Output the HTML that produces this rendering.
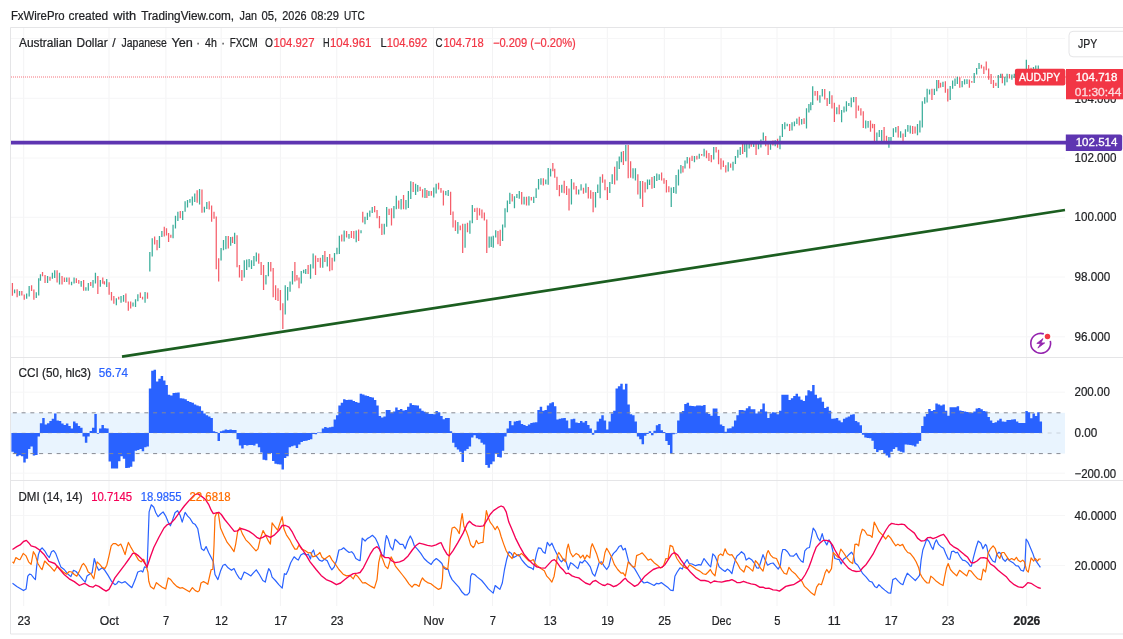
<!DOCTYPE html>
<html lang="en"><head><meta charset="utf-8"><title>AUDJPY chart</title>
<style>html,body{margin:0;padding:0;background:#fff}body{width:1123px;height:639px;overflow:hidden}svg{display:block;will-change:transform;filter:blur(0.4px)}text{font-family:"Liberation Sans", "DejaVu Sans", sans-serif}</style>
</head><body>
<svg width="1123" height="639" viewBox="0 0 1123 639">
<rect x="0" y="0" width="1123" height="639" fill="#ffffff"/>
<g stroke="#f3f3f4" stroke-width="1">
<line x1="23.7" y1="28" x2="23.7" y2="606"/>
<line x1="109.0" y1="28" x2="109.0" y2="606"/>
<line x1="165.9" y1="28" x2="165.9" y2="606"/>
<line x1="221.2" y1="28" x2="221.2" y2="606"/>
<line x1="280.4" y1="28" x2="280.4" y2="606"/>
<line x1="336.8" y1="28" x2="336.8" y2="606"/>
<line x1="433.5" y1="28" x2="433.5" y2="606"/>
<line x1="492.5" y1="28" x2="492.5" y2="606"/>
<line x1="550.0" y1="28" x2="550.0" y2="606"/>
<line x1="607.3" y1="28" x2="607.3" y2="606"/>
<line x1="664.3" y1="28" x2="664.3" y2="606"/>
<line x1="721.1" y1="28" x2="721.1" y2="606"/>
<line x1="777.0" y1="28" x2="777.0" y2="606"/>
<line x1="834.0" y1="28" x2="834.0" y2="606"/>
<line x1="891.0" y1="28" x2="891.0" y2="606"/>
<line x1="947.8" y1="28" x2="947.8" y2="606"/>
<line x1="1026.6" y1="28" x2="1026.6" y2="606"/>
<line x1="11" y1="38.5" x2="1065" y2="38.5" stroke="#f6f6f7"/>
<line x1="11" y1="98.3" x2="1065" y2="98.3" stroke="#f6f6f7"/>
<line x1="11" y1="158.0" x2="1065" y2="158.0" stroke="#f6f6f7"/>
<line x1="11" y1="217.3" x2="1065" y2="217.3" stroke="#f6f6f7"/>
<line x1="11" y1="277.0" x2="1065" y2="277.0" stroke="#f6f6f7"/>
<line x1="11" y1="336.8" x2="1065" y2="336.8" stroke="#f6f6f7"/>
<line x1="11" y1="392.2" x2="1065" y2="392.2" stroke="#f6f6f7"/>
<line x1="11" y1="433.0" x2="1065" y2="433.0" stroke="#f6f6f7"/>
<line x1="11" y1="473.2" x2="1065" y2="473.2" stroke="#f6f6f7"/>
<line x1="11" y1="515.6" x2="1065" y2="515.6" stroke="#f6f6f7"/>
<line x1="11" y1="565.5" x2="1065" y2="565.5" stroke="#f6f6f7"/>
</g>
<g stroke="#e5e5e7" stroke-width="1" fill="none">
<path d="M1123 27.5H10.5V634H1123"/>
<line x1="10.5" y1="357.5" x2="1123" y2="357.5"/>
<line x1="10.5" y1="480.5" x2="1123" y2="480.5"/>
</g>
<line x1="11" y1="77" x2="1066" y2="77" stroke="#f23645" stroke-width="1" stroke-dasharray="1 1" opacity="0.7"/>
<line x1="122" y1="356.6" x2="1065" y2="210" stroke="#1b5e20" stroke-width="2.7" stroke-linecap="butt"/>
<path d="M14.60 289.4V293.3M19.53 291.1V295.8M26.65 293.6V298.7M29.17 286.1V296.5M36.29 292.2V298.0M38.70 278.3V295.5M40.45 274.3V280.7M47.57 276.1V282.9M52.39 272.8V278.7M54.69 270.3V277.9M59.51 272.8V284.5M66.74 277.4V282.0M71.56 281.8V285.3M74.07 277.4V283.4M81.19 280.9V286.7M85.90 287.2V290.7M88.31 283.1V290.7M93.02 280.1V287.8M95.43 272.8V283.4M100.36 280.1V286.7M106.71 279.0V287.0M116.35 298.3V305.3M121.04 296.1V302.7M123.54 295.1V301.8M133.01 302.4V306.6M135.52 299.2V306.9M137.86 294.3V301.2M145.06 292.0V302.7M149.82 251.9V271.6M152.23 238.2V256.6M159.46 235.9V248.0M161.87 230.9V237.1M173.06 224.8V238.2M175.46 215.8V228.5M177.87 211.8V221.0M182.69 211.0V219.9M185.10 201.2V211.8M187.51 200.1V207.5M189.92 198.9V202.7M192.33 196.4V205.5M194.74 193.4V202.0M199.56 189.1V204.4M204.38 206.7V212.4M206.79 201.9V208.9M221.08 248.0V260.6M223.49 239.9V250.2M225.90 235.9V249.2M230.68 237.0V245.7M234.64 232.7V243.9M244.28 260.3V277.5M246.69 259.4V270.1M249.10 259.1V267.2M251.51 260.3V268.9M253.92 256.0V266.0M256.33 252.5V261.5M265.96 274.9V284.4M268.37 262.0V276.3M285.24 285.2V314.5M287.65 287.0V300.4M290.06 281.5V291.8M292.47 271.1V284.4M301.25 271.1V283.5M303.66 269.8V273.2M305.72 268.9V274.1M310.54 264.2V278.7M313.12 253.4V268.4M322.76 255.1V267.7M327.29 256.9V266.4M334.52 253.0V261.6M336.93 247.8V254.3M339.34 235.7V254.0M344.16 230.6V241.4M348.98 234.0V238.8M356.21 230.6V242.3M361.03 230.2V233.3M364.99 216.8V224.2M367.40 212.7V219.9M369.81 210.4V216.8M372.22 207.0V213.0M384.27 223.7V234.5M386.67 207.0V226.8M393.90 206.1V218.2M396.31 195.8V209.2M401.13 198.9V209.6M405.95 200.1V209.6M408.36 191.0V207.9M410.77 181.2V198.9M415.59 183.8V195.0M417.75 185.0V191.8M424.97 187.9V197.9M428.93 191.0V196.1M433.75 187.5V197.5M436.16 183.8V193.6M445.80 191.0V195.3M448.21 190.1V196.1M457.85 222.0V233.7M465.08 223.7V247.8M469.90 220.6V233.7M472.31 205.1V223.3M489.17 236.6V247.8M491.24 236.6V246.9M493.30 235.7V247.8M495.71 230.2V237.5M502.60 224.5V240.9M505.01 208.2V227.5M507.40 200.6V212.3M509.81 192.8V204.0M514.46 196.3V208.3M516.87 194.0V198.0M519.28 191.1V198.8M524.10 196.8V204.4M528.92 196.3V205.4M533.73 196.8V203.1M536.14 188.2V198.0M538.55 179.1V189.4M540.96 178.2V184.7M545.78 179.6V184.2M548.19 167.9V184.7M550.60 168.7V176.5M561.79 184.7V192.8M571.43 179.1V204.4M578.66 189.4V194.5M581.07 184.2V190.6M585.89 183.4V192.8M595.52 192.0V207.5M597.75 184.5V193.1M600.15 176.8V198.3M609.79 182.0V193.1M612.20 174.2V184.0M617.02 161.3V180.6M619.26 156.5V169.1M621.33 151.8V162.2M625.80 145.0V161.3M633.03 168.2V178.5M635.44 168.2V180.6M640.26 181.1V198.8M647.49 179.4V189.2M649.55 179.4V185.1M654.37 175.9V188.0M656.78 173.4V181.1M659.19 174.2V179.9M671.24 187.5V206.9M673.65 187.1V193.1M676.06 175.1V193.7M678.47 169.6V185.4M680.88 165.1V173.4M685.01 160.4V168.5M687.23 157.1V163.5M694.46 156.1V162.3M699.28 153.7V158.8M704.10 148.8V156.6M713.73 147.1V159.5M728.19 162.3V171.6M733.01 161.8V170.4M735.42 156.1V164.0M737.83 149.7V157.8M740.24 147.1V154.9M744.72 143.7V151.9M746.78 142.8V157.5M749.19 142.0V148.5M753.67 141.6V147.1M758.49 141.1V149.2M760.90 139.4V147.5M763.30 132.5V140.6M770.53 141.1V149.7M775.18 140.2V146.3M779.98 135.7V149.2M782.39 124.0V137.1M784.80 122.3V129.2M787.21 123.7V126.3M792.03 122.3V130.6M794.44 121.6V126.3M796.85 118.5V124.0M801.67 118.9V124.5M806.49 108.2V128.5M808.90 103.9V112.5M810.79 102.2V110.3M812.69 86.2V105.1M819.91 95.3V102.7M822.32 88.9V96.5M829.55 91.3V103.9M836.78 107.3V114.2M841.60 109.9V122.3M844.01 106.5V112.5M846.42 101.3V111.6M848.83 103.0V106.1M851.24 97.5V107.3M853.65 97.0V102.2M865.70 120.6V128.5M868.09 120.9V127.8M876.87 132.6V141.2M879.28 130.0V136.9M881.69 130.0V141.2M888.92 136.9V147.8M890.98 136.9V141.2M893.39 128.3V136.9M895.80 127.1V132.6M900.62 131.2V137.8M905.44 129.2V136.9M907.85 124.9V131.8M910.26 125.4V133.5M917.49 124.0V135.2M919.90 120.6V132.6M922.31 101.3V127.5M924.72 97.3V103.7M927.13 88.7V102.5M929.54 89.6V94.4M934.35 88.7V95.1M936.76 80.1V91.3M942.96 81.8V87.0M950.19 86.1V99.9M952.60 80.6V88.7M955.01 78.4V86.1M957.34 76.8V83.9M962.16 81.1V87.2M964.57 79.2V84.6M966.98 79.2V83.9M974.21 72.9V83.1M976.62 68.0V74.6M979.03 63.1V69.1M998.30 75.1V87.9M1000.71 73.7V77.9M1004.76 76.8V85.5M1007.06 73.7V82.2M1011.88 74.4V79.8M1014.29 73.7V77.9M1019.11 74.6V78.4M1021.52 73.7V77.9M1023.93 72.9V77.9M1026.34 59.8V76.8M1033.46 66.9V76.8M1035.76 65.4V76.2M1038.28 65.4V77.0" stroke="#089981" stroke-width="1.25" fill="none" opacity="0.8"/>
<path d="M12.41 282.9V295.8M17.12 289.2V297.3M21.83 291.1V295.5M24.24 294.4V299.8M31.58 285.3V291.1M33.88 289.4V299.8M42.53 271.9V276.3M45.05 275.0V282.9M49.98 276.8V280.7M57.10 270.3V282.6M62.03 276.1V284.5M64.44 277.4V282.0M69.15 277.4V284.5M76.37 278.3V282.9M78.78 280.1V283.7M83.60 280.1V290.7M90.72 282.0V285.9M97.84 276.1V294.0M102.77 277.4V283.7M104.41 281.2V284.5M109.12 282.3V294.7M111.49 292.0V300.6M113.84 296.1V303.7M118.69 296.7V299.4M125.89 293.6V302.7M128.32 301.4V310.8M130.67 301.4V308.4M140.37 292.5V297.9M142.56 296.7V299.6M147.49 292.5V298.8M154.64 236.5V244.5M157.05 239.9V250.2M164.28 226.8V236.5M166.51 228.2V235.4M168.58 233.0V242.0M170.82 234.7V237.7M180.28 211.0V218.2M197.15 190.3V202.7M201.97 189.5V212.7M209.20 201.2V209.6M211.61 205.5V221.7M214.02 211.8V218.7M216.26 216.5V269.2M218.67 258.3V281.5M228.30 235.9V248.5M232.57 236.7V243.1M237.05 235.3V267.2M239.46 264.9V277.5M241.87 270.1V280.9M258.73 253.4V263.7M261.14 262.0V274.9M263.55 264.9V290.1M270.78 262.0V271.5M273.19 268.0V297.3M275.60 285.2V299.9M278.01 288.3V301.1M280.42 290.1V310.2M282.83 303.3V329.1M294.88 262.0V281.5M296.94 274.9V280.4M299.01 277.5V288.3M308.13 264.9V274.1M315.53 255.6V274.9M317.94 258.0V262.0M320.35 257.7V267.7M324.88 250.9V262.1M329.70 254.0V271.2M332.11 257.8V270.2M341.75 234.5V241.4M346.57 231.1V237.5M351.39 231.1V238.0M353.80 231.1V238.8M358.62 229.4V240.9M362.75 211.7V222.5M374.63 206.1V212.2M377.04 209.9V218.2M379.45 216.1V228.2M381.86 223.7V235.1M389.08 208.7V215.1M391.49 208.2V225.4M398.72 200.6V208.7M403.54 195.0V209.2M413.18 182.0V192.0M420.15 186.7V191.0M422.56 189.3V197.5M426.87 190.1V197.9M431.34 191.0V195.8M438.57 182.7V189.6M440.98 187.9V192.7M443.39 190.6V205.6M450.62 191.8V215.1M453.03 211.6V227.5M455.44 220.2V230.9M460.26 225.4V230.2M462.67 223.7V252.9M467.49 222.8V232.3M474.72 208.2V212.0M477.13 207.8V219.9M479.54 208.2V215.4M481.94 209.6V218.2M484.35 212.5V220.6M486.76 219.4V252.9M497.95 230.9V244.3M500.19 229.7V246.1M512.22 194.0V201.4M521.69 192.0V204.4M526.51 196.8V205.4M531.33 197.1V200.6M543.37 178.2V185.4M552.84 163.0V171.3M554.73 168.7V177.8M556.97 176.8V189.9M559.38 185.1V196.3M564.20 180.8V193.3M566.61 185.9V195.1M569.02 188.5V210.6M573.84 182.5V189.4M576.25 185.9V194.5M583.48 187.7V193.7M588.30 187.1V198.5M590.71 190.2V198.8M593.12 192.0V212.3M602.56 174.2V182.8M604.97 179.4V190.2M607.38 187.1V200.0M614.61 166.8V184.5M623.39 151.0V165.1M628.21 145.0V178.2M630.62 161.3V177.7M637.85 174.2V194.4M642.67 181.1V206.9M645.08 182.3V192.6M651.96 177.1V188.8M661.60 172.5V180.6M664.01 178.2V183.7M666.42 179.9V192.6M668.83 186.3V192.3M682.94 166.1V172.5M689.64 157.5V168.6M692.05 155.7V160.9M696.87 155.7V159.5M701.69 154.0V155.7M706.51 150.6V158.3M708.92 153.1V160.9M711.33 154.9V162.3M716.14 147.1V152.6M718.55 149.7V164.3M720.96 158.3V169.5M723.37 160.6V166.9M725.78 165.2V172.6M730.60 163.5V167.8M742.65 142.8V154.0M751.26 142.3V146.8M756.08 142.3V154.9M765.71 135.9V146.3M768.12 142.0V154.9M772.94 140.6V145.4M777.57 138.8V147.8M789.62 124.0V130.9M799.26 116.8V125.4M804.08 118.2V124.0M815.09 91.0V95.8M817.50 91.0V100.4M824.73 88.9V99.6M827.14 97.9V106.1M831.96 95.3V108.5M834.37 102.7V122.0M839.19 104.8V114.2M856.06 97.0V118.2M858.47 105.6V110.8M860.88 108.2V115.4M863.29 111.3V128.0M870.50 120.6V131.8M872.56 123.7V128.3M874.46 124.0V141.2M884.10 127.1V141.2M886.51 135.7V141.2M898.21 126.1V137.4M903.03 133.5V141.2M912.67 126.1V134.0M915.08 126.6V133.5M931.94 88.7V99.9M938.66 80.1V88.2M940.55 82.7V87.5M945.37 81.3V92.7M947.78 88.7V101.6M959.75 77.3V87.7M969.39 79.5V87.7M971.80 81.1V82.8M981.43 64.7V68.5M983.84 66.4V74.0M986.25 61.4V70.2M988.66 68.5V79.8M991.07 74.0V83.9M993.48 80.0V87.9M995.89 82.8V86.1M1002.35 73.7V83.3M1009.47 74.0V78.4M1016.70 74.0V79.0M1028.64 64.9V76.2M1031.05 67.8V77.9" stroke="#f23645" stroke-width="1.25" fill="none" opacity="0.8"/>
<line x1="11" y1="142.6" x2="1066" y2="142.6" stroke="#5e35b1" stroke-width="3.8"/>
<rect x="11" y="412.8" width="1054.0" height="40.8" fill="#e9f4fe"/>
<path d="M11.42 433.0h2.47v18.7h-2.47zM13.79 433.0h2.47v21.1h-2.47zM16.16 433.0h2.47v23.2h-2.47zM18.53 433.0h2.47v22.3h-2.47zM20.90 433.0h2.47v23.2h-2.47zM23.26 433.0h2.47v29.4h-2.47zM25.63 433.0h2.47v25.8h-2.47zM28.00 433.0h2.47v16.0h-2.47zM30.37 433.0h2.47v13.4h-2.47zM32.74 433.0h2.47v22.6h-2.47zM35.11 433.0h2.47v21.9h-2.47zM37.48 433.0h2.47v3.6h-2.47zM39.85 423.2h2.47v9.8h-2.47zM42.22 417.9h2.47v15.1h-2.47zM44.59 424.6h2.47v8.4h-2.47zM46.95 423.2h2.47v9.8h-2.47zM49.32 420.9h2.47v12.1h-2.47zM51.69 418.8h2.47v14.2h-2.47zM54.06 413.4h2.47v19.6h-2.47zM56.43 420.5h2.47v12.5h-2.47zM58.80 421.1h2.47v11.9h-2.47zM61.17 423.6h2.47v9.4h-2.47zM63.54 425.0h2.47v8.0h-2.47zM65.91 423.6h2.47v9.4h-2.47zM68.28 425.9h2.47v7.1h-2.47zM70.64 428.6h2.47v4.4h-2.47zM73.01 421.4h2.47v11.6h-2.47zM75.38 423.2h2.47v9.8h-2.47zM77.75 425.9h2.47v7.1h-2.47zM80.12 427.7h2.47v5.3h-2.47zM82.49 433.0h2.47v3.6h-2.47zM84.86 433.0h2.47v9.8h-2.47zM87.23 433.0h2.47v3.6h-2.47zM89.60 431.1h2.47v1.9h-2.47zM91.97 427.7h2.47v5.3h-2.47zM94.33 413.9h2.47v19.1h-2.47zM96.70 433.0h2.47v0.7h-2.47zM99.07 428.6h2.47v4.4h-2.47zM101.44 425.0h2.47v8.0h-2.47zM103.81 428.2h2.47v4.8h-2.47zM106.18 428.6h2.47v4.4h-2.47zM108.55 433.0h2.47v28.5h-2.47zM110.92 433.0h2.47v35.6h-2.47zM113.29 433.0h2.47v35.6h-2.47zM115.66 433.0h2.47v35.6h-2.47zM118.02 433.0h2.47v28.3h-2.47zM120.39 433.0h2.47v23.2h-2.47zM122.76 433.0h2.47v25.8h-2.47zM125.13 433.0h2.47v35.1h-2.47zM127.50 433.0h2.47v34.7h-2.47zM129.87 433.0h2.47v33.8h-2.47zM132.24 433.0h2.47v28.5h-2.47zM134.61 433.0h2.47v17.8h-2.47zM136.98 433.0h2.47v17.0h-2.47zM139.35 433.0h2.47v16.0h-2.47zM141.71 433.0h2.47v18.3h-2.47zM144.08 433.0h2.47v14.3h-2.47zM146.45 433.0h2.47v13.4h-2.47zM148.82 388.5h2.47v44.5h-2.47zM151.19 370.7h2.47v62.3h-2.47zM153.56 369.8h2.47v63.2h-2.47zM155.93 381.4h2.47v51.6h-2.47zM158.30 378.7h2.47v54.3h-2.47zM160.67 376.0h2.47v57.0h-2.47zM163.04 380.5h2.47v52.5h-2.47zM165.40 384.9h2.47v48.1h-2.47zM167.77 394.7h2.47v38.3h-2.47zM170.14 395.6h2.47v37.4h-2.47zM172.51 392.9h2.47v40.1h-2.47zM174.88 392.7h2.47v40.3h-2.47zM177.25 392.6h2.47v40.4h-2.47zM179.62 398.3h2.47v34.7h-2.47zM181.99 398.6h2.47v34.4h-2.47zM184.36 399.2h2.47v33.8h-2.47zM186.73 400.9h2.47v32.1h-2.47zM189.09 402.1h2.47v30.9h-2.47zM191.46 402.7h2.47v30.3h-2.47zM193.83 404.5h2.47v28.5h-2.47zM196.20 405.6h2.47v27.4h-2.47zM198.57 406.3h2.47v26.7h-2.47zM200.94 410.7h2.47v22.3h-2.47zM203.31 413.4h2.47v19.6h-2.47zM205.68 415.2h2.47v17.8h-2.47zM208.05 416.5h2.47v16.5h-2.47zM210.42 417.9h2.47v15.1h-2.47zM212.78 431.2h2.47v1.8h-2.47zM215.15 432.1h2.47v0.9h-2.47zM217.52 433.0h2.47v8.0h-2.47zM219.89 431.2h2.47v1.8h-2.47zM222.26 430.4h2.47v2.6h-2.47zM224.63 429.4h2.47v3.6h-2.47zM227.00 430.0h2.47v3.0h-2.47zM229.37 429.4h2.47v3.6h-2.47zM231.74 430.0h2.47v3.0h-2.47zM234.11 430.0h2.47v3.0h-2.47zM236.47 433.0h2.47v6.2h-2.47zM238.84 433.0h2.47v12.5h-2.47zM241.21 433.0h2.47v15.5h-2.47zM243.58 433.0h2.47v11.9h-2.47zM245.95 433.0h2.47v12.5h-2.47zM248.32 433.0h2.47v12.1h-2.47zM250.69 433.0h2.47v11.9h-2.47zM253.06 433.0h2.47v12.5h-2.47zM255.43 433.0h2.47v10.7h-2.47zM257.80 433.0h2.47v14.3h-2.47zM260.16 433.0h2.47v19.6h-2.47zM262.53 433.0h2.47v26.7h-2.47zM264.90 433.0h2.47v27.3h-2.47zM267.27 433.0h2.47v20.4h-2.47zM269.64 433.0h2.47v20.1h-2.47zM272.01 433.0h2.47v28.0h-2.47zM274.38 433.0h2.47v30.8h-2.47zM276.75 433.0h2.47v31.3h-2.47zM279.12 433.0h2.47v31.5h-2.47zM281.49 433.0h2.47v36.5h-2.47zM283.85 433.0h2.47v25.0h-2.47zM286.22 433.0h2.47v23.2h-2.47zM288.59 433.0h2.47v14.3h-2.47zM290.96 433.0h2.47v13.3h-2.47zM293.33 433.0h2.47v12.5h-2.47zM295.70 433.0h2.47v15.1h-2.47zM298.07 433.0h2.47v11.6h-2.47zM300.44 433.0h2.47v8.9h-2.47zM302.81 433.0h2.47v8.0h-2.47zM305.18 433.0h2.47v7.7h-2.47zM307.54 433.0h2.47v7.1h-2.47zM309.91 433.0h2.47v6.2h-2.47zM312.28 433.0h2.47v1.1h-2.47zM314.65 433.0h2.47v1.3h-2.47zM317.02 432.5h2.47v0.5h-2.47zM319.39 432.6h2.47v0.4h-2.47zM321.76 428.6h2.47v4.4h-2.47zM324.13 427.1h2.47v5.9h-2.47zM326.50 427.7h2.47v5.3h-2.47zM328.87 427.3h2.47v5.7h-2.47zM331.23 426.8h2.47v6.2h-2.47zM333.60 419.6h2.47v13.4h-2.47zM335.97 415.2h2.47v17.8h-2.47zM338.34 405.4h2.47v27.6h-2.47zM340.71 402.7h2.47v30.3h-2.47zM343.08 399.2h2.47v33.8h-2.47zM345.45 400.1h2.47v32.9h-2.47zM347.82 399.8h2.47v33.2h-2.47zM350.19 399.7h2.47v33.3h-2.47zM352.56 400.9h2.47v32.1h-2.47zM354.92 402.0h2.47v31.0h-2.47zM357.29 402.7h2.47v30.3h-2.47zM359.66 393.8h2.47v39.2h-2.47zM362.03 394.6h2.47v38.4h-2.47zM364.40 395.6h2.47v37.4h-2.47zM366.77 396.1h2.47v36.9h-2.47zM369.14 396.9h2.47v36.1h-2.47zM371.51 397.4h2.47v35.6h-2.47zM373.88 400.1h2.47v32.9h-2.47zM376.25 405.4h2.47v27.6h-2.47zM378.61 416.1h2.47v16.9h-2.47zM380.98 417.5h2.47v15.5h-2.47zM383.35 416.4h2.47v16.6h-2.47zM385.72 409.9h2.47v23.1h-2.47zM388.09 409.9h2.47v23.1h-2.47zM390.46 412.5h2.47v20.5h-2.47zM392.83 411.6h2.47v21.4h-2.47zM395.20 407.5h2.47v25.5h-2.47zM397.57 409.9h2.47v23.1h-2.47zM399.94 409.0h2.47v24.0h-2.47zM402.30 410.4h2.47v22.6h-2.47zM404.67 409.9h2.47v23.1h-2.47zM407.04 406.7h2.47v26.3h-2.47zM409.41 403.3h2.47v29.7h-2.47zM411.78 405.0h2.47v28.0h-2.47zM414.15 405.2h2.47v27.8h-2.47zM416.52 405.4h2.47v27.6h-2.47zM418.89 408.6h2.47v24.4h-2.47zM421.26 410.7h2.47v22.3h-2.47zM423.63 411.7h2.47v21.3h-2.47zM425.99 412.5h2.47v20.5h-2.47zM428.36 413.9h2.47v19.1h-2.47zM430.73 414.1h2.47v18.9h-2.47zM433.10 414.3h2.47v18.7h-2.47zM435.47 411.1h2.47v21.9h-2.47zM437.84 412.2h2.47v20.8h-2.47zM440.21 416.1h2.47v16.9h-2.47zM442.58 419.3h2.47v13.7h-2.47zM444.95 417.9h2.47v15.1h-2.47zM447.32 417.9h2.47v15.1h-2.47zM449.68 431.3h2.47v1.7h-2.47zM452.05 433.0h2.47v9.8h-2.47zM454.42 433.0h2.47v14.3h-2.47zM456.79 433.0h2.47v16.6h-2.47zM459.16 433.0h2.47v18.7h-2.47zM461.53 433.0h2.47v29.0h-2.47zM463.90 433.0h2.47v17.8h-2.47zM466.27 433.0h2.47v16.0h-2.47zM468.64 433.0h2.47v13.4h-2.47zM471.01 433.0h2.47v4.5h-2.47zM473.37 433.0h2.47v2.3h-2.47zM475.74 433.0h2.47v5.3h-2.47zM478.11 433.0h2.47v6.2h-2.47zM480.48 433.0h2.47v9.8h-2.47zM482.85 433.0h2.47v11.6h-2.47zM485.22 433.0h2.47v32.1h-2.47zM487.59 433.0h2.47v34.7h-2.47zM489.96 433.0h2.47v31.2h-2.47zM492.33 433.0h2.47v28.5h-2.47zM494.70 433.0h2.47v20.5h-2.47zM497.06 433.0h2.47v24.0h-2.47zM499.43 433.0h2.47v24.4h-2.47zM501.80 433.0h2.47v17.8h-2.47zM504.17 433.0h2.47v3.6h-2.47zM506.54 428.6h2.47v4.4h-2.47zM508.91 421.1h2.47v11.9h-2.47zM511.28 425.3h2.47v7.7h-2.47zM513.65 421.4h2.47v11.6h-2.47zM516.02 421.0h2.47v12.0h-2.47zM518.39 420.5h2.47v12.5h-2.47zM520.75 424.1h2.47v8.9h-2.47zM523.12 425.0h2.47v8.0h-2.47zM525.49 425.9h2.47v7.1h-2.47zM527.86 424.6h2.47v8.4h-2.47zM530.23 422.9h2.47v10.1h-2.47zM532.60 422.5h2.47v10.5h-2.47zM534.97 422.3h2.47v10.7h-2.47zM537.34 409.9h2.47v23.1h-2.47zM539.71 406.8h2.47v26.2h-2.47zM542.08 410.7h2.47v22.3h-2.47zM544.44 409.9h2.47v23.1h-2.47zM546.81 405.4h2.47v27.6h-2.47zM549.18 403.3h2.47v29.7h-2.47zM551.55 402.2h2.47v30.8h-2.47zM553.92 406.3h2.47v26.7h-2.47zM556.29 419.6h2.47v13.4h-2.47zM558.66 418.8h2.47v14.2h-2.47zM561.03 418.3h2.47v14.7h-2.47zM563.40 417.9h2.47v15.1h-2.47zM565.77 420.5h2.47v12.5h-2.47zM568.13 428.2h2.47v4.8h-2.47zM570.50 419.2h2.47v13.8h-2.47zM572.87 418.8h2.47v14.2h-2.47zM575.24 422.5h2.47v10.5h-2.47zM577.61 422.9h2.47v10.1h-2.47zM579.98 421.1h2.47v11.9h-2.47zM582.35 422.4h2.47v10.6h-2.47zM584.72 421.1h2.47v11.9h-2.47zM587.09 425.0h2.47v8.0h-2.47zM589.46 428.6h2.47v4.4h-2.47zM591.82 433.0h2.47v1.8h-2.47zM594.19 430.3h2.47v2.7h-2.47zM596.56 421.4h2.47v11.6h-2.47zM598.93 418.8h2.47v14.2h-2.47zM601.30 415.2h2.47v17.8h-2.47zM603.67 420.5h2.47v12.5h-2.47zM606.04 429.4h2.47v3.6h-2.47zM608.41 421.4h2.47v11.6h-2.47zM610.78 413.4h2.47v19.6h-2.47zM613.15 410.7h2.47v22.3h-2.47zM615.51 388.5h2.47v44.5h-2.47zM617.88 386.2h2.47v46.8h-2.47zM620.25 383.7h2.47v49.3h-2.47zM622.62 389.4h2.47v43.6h-2.47zM624.99 383.7h2.47v49.3h-2.47zM627.36 404.5h2.47v28.5h-2.47zM629.73 414.3h2.47v18.7h-2.47zM632.10 415.2h2.47v17.8h-2.47zM634.47 421.4h2.47v11.6h-2.47zM636.84 433.0h2.47v3.6h-2.47zM639.20 433.0h2.47v6.2h-2.47zM641.57 433.0h2.47v11.2h-2.47zM643.94 433.0h2.47v2.7h-2.47zM646.31 433.0h2.47v0.9h-2.47zM648.68 431.2h2.47v1.8h-2.47zM651.05 433.0h2.47v2.3h-2.47zM653.42 430.7h2.47v2.3h-2.47zM655.79 425.3h2.47v7.7h-2.47zM658.16 424.1h2.47v8.9h-2.47zM660.53 430.3h2.47v2.7h-2.47zM662.89 431.9h2.47v1.1h-2.47zM665.26 433.0h2.47v8.0h-2.47zM667.63 433.0h2.47v11.9h-2.47zM670.00 433.0h2.47v20.5h-2.47zM672.37 433.0h2.47v1.3h-2.47zM674.74 433.0h2.47v0.4h-2.47zM677.11 420.5h2.47v12.5h-2.47zM679.48 412.2h2.47v20.8h-2.47zM681.85 411.1h2.47v21.9h-2.47zM684.22 404.1h2.47v28.9h-2.47zM686.58 402.7h2.47v30.3h-2.47zM688.95 405.8h2.47v27.2h-2.47zM691.32 405.9h2.47v27.1h-2.47zM693.69 406.3h2.47v26.7h-2.47zM696.06 405.4h2.47v27.6h-2.47zM698.43 405.6h2.47v27.4h-2.47zM700.80 405.8h2.47v27.2h-2.47zM703.17 405.0h2.47v28.0h-2.47zM705.54 412.5h2.47v20.5h-2.47zM707.91 413.9h2.47v19.1h-2.47zM710.27 415.7h2.47v17.3h-2.47zM712.64 408.6h2.47v24.4h-2.47zM715.01 408.6h2.47v24.4h-2.47zM717.38 416.1h2.47v16.9h-2.47zM719.75 424.6h2.47v8.4h-2.47zM722.12 425.9h2.47v7.1h-2.47zM724.49 431.8h2.47v1.2h-2.47zM726.86 428.6h2.47v4.4h-2.47zM729.23 428.2h2.47v4.8h-2.47zM731.60 426.4h2.47v6.6h-2.47zM733.96 420.5h2.47v12.5h-2.47zM736.33 415.2h2.47v17.8h-2.47zM738.70 409.9h2.47v23.1h-2.47zM741.07 409.9h2.47v23.1h-2.47zM743.44 410.4h2.47v22.6h-2.47zM745.81 408.2h2.47v24.8h-2.47zM748.18 406.3h2.47v26.7h-2.47zM750.55 409.3h2.47v23.7h-2.47zM752.92 409.3h2.47v23.7h-2.47zM755.29 413.4h2.47v19.6h-2.47zM757.65 411.6h2.47v21.4h-2.47zM760.02 409.3h2.47v23.7h-2.47zM762.39 403.6h2.47v29.4h-2.47zM764.76 411.6h2.47v21.4h-2.47zM767.13 417.9h2.47v15.1h-2.47zM769.50 413.4h2.47v19.6h-2.47zM771.87 412.2h2.47v20.8h-2.47zM774.24 412.5h2.47v20.5h-2.47zM776.61 414.3h2.47v18.7h-2.47zM778.98 410.7h2.47v22.3h-2.47zM781.34 394.7h2.47v38.3h-2.47zM783.71 394.7h2.47v38.3h-2.47zM786.08 394.7h2.47v38.3h-2.47zM788.45 400.1h2.47v32.9h-2.47zM790.82 398.3h2.47v34.7h-2.47zM793.19 396.1h2.47v36.9h-2.47zM795.56 393.8h2.47v39.2h-2.47zM797.93 396.5h2.47v36.5h-2.47zM800.30 399.7h2.47v33.3h-2.47zM802.67 400.9h2.47v32.1h-2.47zM805.03 395.6h2.47v37.4h-2.47zM807.40 390.3h2.47v42.7h-2.47zM809.77 391.2h2.47v41.8h-2.47zM812.14 384.9h2.47v48.1h-2.47zM814.51 394.7h2.47v38.3h-2.47zM816.88 398.3h2.47v34.7h-2.47zM819.25 397.4h2.47v35.6h-2.47zM821.62 401.8h2.47v31.2h-2.47zM823.99 408.1h2.47v24.9h-2.47zM826.36 406.8h2.47v26.2h-2.47zM828.72 410.7h2.47v22.3h-2.47zM831.09 418.8h2.47v14.2h-2.47zM833.46 418.4h2.47v14.6h-2.47zM835.83 417.9h2.47v15.1h-2.47zM838.20 420.5h2.47v12.5h-2.47zM840.57 422.3h2.47v10.7h-2.47zM842.94 418.8h2.47v14.2h-2.47zM845.31 417.4h2.47v15.6h-2.47zM847.68 416.4h2.47v16.6h-2.47zM850.05 414.7h2.47v18.3h-2.47zM852.41 414.3h2.47v18.7h-2.47zM854.78 421.1h2.47v11.9h-2.47zM857.15 422.3h2.47v10.7h-2.47zM859.52 425.3h2.47v7.7h-2.47zM861.89 433.0h2.47v1.8h-2.47zM864.26 433.0h2.47v4.5h-2.47zM866.63 433.0h2.47v4.9h-2.47zM869.00 433.0h2.47v5.3h-2.47zM871.37 433.0h2.47v7.7h-2.47zM873.74 433.0h2.47v16.0h-2.47zM876.10 433.0h2.47v19.1h-2.47zM878.47 433.0h2.47v17.3h-2.47zM880.84 433.0h2.47v16.9h-2.47zM883.21 433.0h2.47v20.5h-2.47zM885.58 433.0h2.47v22.6h-2.47zM887.95 433.0h2.47v24.4h-2.47zM890.32 433.0h2.47v18.7h-2.47zM892.69 433.0h2.47v16.0h-2.47zM895.06 433.0h2.47v14.3h-2.47zM897.43 433.0h2.47v17.8h-2.47zM899.79 433.0h2.47v18.7h-2.47zM902.16 433.0h2.47v19.6h-2.47zM904.53 433.0h2.47v11.6h-2.47zM906.90 433.0h2.47v11.7h-2.47zM909.27 433.0h2.47v11.9h-2.47zM911.64 433.0h2.47v12.6h-2.47zM914.01 433.0h2.47v13.4h-2.47zM916.38 433.0h2.47v10.7h-2.47zM918.75 433.0h2.47v8.0h-2.47zM921.12 425.9h2.47v7.1h-2.47zM923.48 416.4h2.47v16.6h-2.47zM925.85 413.9h2.47v19.1h-2.47zM928.22 409.0h2.47v24.0h-2.47zM930.59 411.1h2.47v21.9h-2.47zM932.96 409.9h2.47v23.1h-2.47zM935.33 403.6h2.47v29.4h-2.47zM937.70 404.5h2.47v28.5h-2.47zM940.07 405.4h2.47v27.6h-2.47zM942.44 404.5h2.47v28.5h-2.47zM944.81 410.7h2.47v22.3h-2.47zM947.17 415.7h2.47v17.3h-2.47zM949.54 407.2h2.47v25.8h-2.47zM951.91 407.2h2.47v25.8h-2.47zM954.28 407.2h2.47v25.8h-2.47zM956.65 406.3h2.47v26.7h-2.47zM959.02 410.4h2.47v22.6h-2.47zM961.39 411.1h2.47v21.9h-2.47zM963.76 411.6h2.47v21.4h-2.47zM966.13 412.1h2.47v20.9h-2.47zM968.50 412.5h2.47v20.5h-2.47zM970.86 412.9h2.47v20.1h-2.47zM973.23 411.6h2.47v21.4h-2.47zM975.60 408.6h2.47v24.4h-2.47zM977.97 408.1h2.47v24.9h-2.47zM980.34 409.3h2.47v23.7h-2.47zM982.71 411.1h2.47v21.9h-2.47zM985.08 411.6h2.47v21.4h-2.47zM987.45 417.0h2.47v16.0h-2.47zM989.82 420.5h2.47v12.5h-2.47zM992.19 422.9h2.47v10.1h-2.47zM994.55 422.3h2.47v10.7h-2.47zM996.92 420.5h2.47v12.5h-2.47zM999.29 418.8h2.47v14.2h-2.47zM1001.66 421.4h2.47v11.6h-2.47zM1004.03 421.8h2.47v11.2h-2.47zM1006.40 420.0h2.47v13.0h-2.47zM1008.77 420.0h2.47v13.0h-2.47zM1011.14 419.6h2.47v13.4h-2.47zM1013.51 419.3h2.47v13.7h-2.47zM1015.88 421.4h2.47v11.6h-2.47zM1018.24 422.9h2.47v10.1h-2.47zM1020.61 422.9h2.47v10.1h-2.47zM1022.98 422.9h2.47v10.1h-2.47zM1025.35 411.1h2.47v21.9h-2.47zM1027.72 412.2h2.47v20.8h-2.47zM1030.09 418.2h2.47v14.8h-2.47zM1032.46 413.4h2.47v19.6h-2.47zM1034.83 416.1h2.47v16.9h-2.47zM1037.20 412.2h2.47v20.8h-2.47zM1039.57 421.4h2.47v11.6h-2.47z" fill="#2962ff"/>
<g stroke="#868993" stroke-width="1" stroke-dasharray="4 4.77">
<line x1="12.8" y1="412.8" x2="1065" y2="412.8"/>
<line x1="12.8" y1="453.6" x2="1065" y2="453.6"/>
<line x1="12.8" y1="433.0" x2="1065" y2="433.0" opacity="0.3"/>
</g>
<polyline points="12.5,583.3 16.8,586.4 21.0,588.9 23.5,590.6 26.1,588.9 27.8,576.2 29.5,574.2 31.1,574.5 33.7,577.9 35.4,579.6 36.7,566.1 38.4,554.6 40.1,550.0 42.1,547.8 44.7,550.8 47.2,555.1 49.3,557.6 51.5,551.7 53.6,550.5 55.7,553.4 58.2,560.1 60.8,566.9 64.2,569.5 67.5,573.7 70.9,576.6 73.5,570.3 76.0,571.5 79.4,575.4 82.8,579.6 85.3,582.1 87.0,575.9 89.5,574.2 92.1,572.8 94.3,558.5 96.6,566.1 98.8,570.3 102.2,567.8 104.8,570.3 108.1,575.4 111.5,581.3 114.9,584.7 116.6,583.8 118.3,581.3 121.7,583.0 125.1,581.6 128.4,584.7 131.8,587.7 135.2,579.6 137.8,572.0 141.1,570.8 142.8,572.0 144.5,566.9 147.1,567.8 147.9,545.8 149.1,511.9 151.3,504.8 153.8,507.2 155.8,512.8 158.1,516.7 160.6,514.0 163.1,511.9 165.7,516.1 168.2,522.1 170.4,525.8 172.4,520.4 175.0,512.8 177.5,510.6 180.1,515.3 182.2,522.1 185.1,512.4 187.7,516.1 190.2,518.7 192.7,522.9 195.3,524.6 197.8,528.8 199.3,537.3 201.5,548.8 203.9,550.5 206.1,546.6 208.6,552.5 211.2,557.6 213.3,561.8 215.0,574.5 217.9,579.6 220.5,571.1 223.0,565.2 225.2,564.4 228.1,567.8 231.5,570.3 234.0,568.6 236.5,573.7 239.1,577.9 241.1,579.6 244.2,572.0 247.5,573.7 250.9,575.9 253.4,572.8 256.3,569.8 259.4,574.5 262.8,580.5 265.3,582.1 267.0,574.5 268.7,568.6 270.4,571.1 272.1,577.1 275.4,580.5 278.8,584.7 282.2,588.1 284.4,573.7 286.1,574.5 288.1,570.3 290.7,562.7 294.1,556.8 296.6,559.0 298.3,560.1 300.8,555.1 303.4,553.4 306.8,555.1 308.4,554.2 310.5,559.0 311.8,552.5 313.5,550.0 314.9,555.1 316.9,556.8 319.4,560.1 322.0,561.3 324.5,559.3 327.1,560.6 329.6,566.1 331.8,569.8 334.2,566.9 336.4,561.0 338.9,550.0 341.4,549.5 343.6,547.8 346.5,550.5 349.1,552.5 351.6,551.7 353.8,554.2 355.8,558.5 358.4,560.1 360.1,560.6 362.2,538.1 365.1,541.0 367.3,538.6 369.7,537.3 372.4,535.3 375.3,538.1 377.8,543.2 379.3,547.5 381.8,555.1 383.9,555.9 385.2,542.4 386.4,535.6 388.3,539.3 390.3,546.6 392.8,550.0 395.0,539.3 397.4,541.5 400.1,544.4 403.0,544.4 405.2,548.8 407.6,541.5 410.3,536.0 412.3,539.8 414.3,545.8 417.4,549.1 420.8,553.4 424.1,558.5 427.5,561.8 431.2,564.4 433.4,561.0 436.3,558.5 439.4,561.0 441.9,563.5 443.6,567.8 446.1,569.5 448.2,569.5 449.9,575.4 452.1,579.6 455.4,583.3 458.8,587.2 462.2,592.3 464.8,594.8 467.3,594.8 469.5,592.3 470.7,576.2 471.9,573.7 474.6,574.5 477.4,577.1 481.7,580.5 485.1,584.7 488.4,588.9 493.2,593.1 495.2,585.5 497.8,587.7 499.9,589.4 502.3,583.0 504.5,569.5 506.7,559.3 509.1,551.7 511.3,553.4 513.8,557.6 516.4,555.9 518.9,554.6 521.4,559.3 524.8,563.5 528.2,566.9 531.6,568.1 533.3,569.5 535.0,561.0 536.7,553.4 538.4,547.8 540.9,548.3 542.9,551.7 545.1,553.4 547.3,542.4 549.7,545.8 551.9,543.2 554.4,549.1 557.0,554.2 559.3,559.3 561.5,561.8 563.9,559.0 566.1,561.8 568.3,569.5 570.6,562.7 572.8,564.0 575.4,566.4 577.9,568.6 580.1,561.8 582.1,563.0 584.7,560.1 587.2,562.7 590.3,566.9 592.6,573.7 594.8,576.2 597.0,569.5 599.1,562.7 601.6,561.8 604.1,566.1 606.7,569.5 608.9,566.1 610.9,557.6 613.5,553.4 616.3,550.8 619.0,546.6 621.1,545.4 623.1,550.0 625.3,548.3 627.0,555.1 628.7,561.8 631.2,565.2 634.6,568.6 638.0,574.5 641.4,580.5 643.9,583.0 647.3,582.1 650.7,583.8 654.1,585.5 656.6,583.3 659.1,583.8 661.3,582.6 664.2,584.7 667.6,587.2 670.5,590.1 673.2,590.6 674.9,576.2 677.2,572.0 680.0,567.8 682.3,569.1 684.5,563.5 687.1,559.6 689.1,563.5 692.1,564.0 695.5,565.7 698.9,564.7 700.9,565.2 704.0,558.5 706.5,561.8 709.0,565.2 710.7,566.9 712.8,553.9 715.0,556.2 716.7,560.1 719.2,566.9 722.2,569.5 725.1,571.5 727.3,569.1 729.7,570.8 731.9,573.7 733.6,566.1 735.3,560.1 737.0,555.9 738.8,554.6 741.5,551.7 744.4,554.2 746.1,560.1 749.0,557.9 752.0,560.1 754.5,563.5 756.7,567.8 758.8,568.1 760.8,561.8 763.0,554.6 765.2,560.1 767.6,565.2 770.6,563.5 773.1,563.0 775.7,566.1 778.2,569.1 780.4,565.2 781.6,554.2 782.8,549.5 785.0,549.5 787.5,551.7 790.1,555.9 793.5,556.2 796.3,553.4 798.5,557.6 801.1,561.0 803.1,562.3 804.8,550.8 807.0,548.3 809.5,547.5 811.6,536.5 813.2,528.0 815.5,531.4 817.6,537.3 820.0,541.0 822.2,533.6 823.9,539.8 826.8,544.9 829.0,539.8 831.2,544.1 833.2,552.5 834.9,558.5 837.5,559.3 839.1,559.3 841.2,564.0 843.4,559.3 846.8,556.8 849.3,554.2 851.5,552.2 853.5,555.1 854.9,562.7 857.8,565.2 860.3,569.5 862.8,573.7 866.2,577.1 869.6,581.3 872.1,582.1 874.7,586.4 876.9,587.7 878.9,584.7 881.4,587.2 884.8,590.1 888.2,592.8 890.7,593.1 892.8,579.6 895.5,578.2 898.4,581.3 900.9,583.8 902.9,584.7 905.1,578.2 907.3,573.2 909.7,575.4 912.4,577.9 915.3,580.5 917.8,577.6 919.5,575.4 921.1,560.1 922.8,550.0 925.0,544.1 926.7,539.0 929.1,541.5 931.3,546.6 933.0,549.5 934.7,543.2 936.4,539.8 938.6,544.4 941.5,547.1 943.6,548.3 945.7,553.4 948.2,559.0 949.9,559.3 951.6,551.7 953.8,551.2 955.8,552.9 957.5,552.2 960.1,556.8 962.6,560.1 965.1,560.6 967.7,562.7 970.2,566.1 971.4,566.1 973.6,556.8 976.1,547.5 978.2,541.0 980.9,543.2 982.9,548.8 985.5,544.4 986.6,545.8 988.0,552.5 990.5,557.6 992.7,561.0 995.1,562.3 996.8,554.2 999.0,552.2 1000.7,553.4 1002.9,559.0 1005.2,561.3 1007.5,558.5 1010.0,561.0 1013.0,562.7 1015.9,565.7 1018.4,566.1 1021.0,570.3 1023.5,571.1 1024.9,566.1 1026.1,539.0 1027.8,541.5 1030.3,547.5 1032.8,553.4 1034.5,558.5 1037.1,562.7 1040.4,567.4" fill="none" stroke="#2962ff" stroke-width="1.2" stroke-linejoin="round"/>
<polyline points="12.5,561.8 13.7,563.0 15.9,557.6 18.5,559.3 20.1,559.6 23.2,553.4 26.1,555.9 28.6,561.8 31.1,564.4 33.4,551.7 35.4,555.1 37.9,563.5 40.5,567.8 42.1,569.5 44.7,561.0 47.2,563.5 50.6,566.9 54.3,571.1 57.4,566.1 59.9,568.6 63.3,572.0 66.7,574.2 69.2,571.5 71.8,572.0 74.3,574.5 76.8,576.2 79.4,571.1 81.9,565.2 83.6,563.5 86.1,566.9 88.2,572.0 90.9,573.7 93.8,578.8 95.5,569.5 97.1,561.8 99.7,564.4 102.2,567.4 104.8,568.6 106.8,565.2 109.0,555.9 111.2,545.8 113.2,543.7 115.8,543.7 118.3,545.8 120.8,544.1 123.0,549.1 125.1,554.6 126.8,547.5 128.4,542.4 130.5,546.6 133.5,551.7 136.1,555.9 138.6,560.1 141.1,561.8 143.7,559.3 146.2,566.1 147.9,572.0 148.8,581.3 150.4,586.4 153.8,588.9 156.4,582.6 158.9,584.7 162.3,587.2 165.7,588.9 168.2,577.9 170.7,579.6 173.3,583.0 176.7,586.4 180.1,588.1 182.6,587.7 186.0,589.8 189.4,591.8 192.4,587.7 195.3,590.6 197.8,591.8 199.3,590.6 201.0,583.0 203.5,581.6 206.1,583.0 207.8,584.3 210.0,574.5 211.2,569.5 212.8,569.5 214.0,545.8 215.0,517.0 216.7,512.8 218.4,513.6 220.5,528.0 223.8,535.6 227.2,542.4 230.6,546.6 234.0,551.7 235.7,544.1 237.7,531.4 239.9,527.5 242.4,533.9 245.8,539.8 249.2,543.2 252.6,547.1 256.0,550.8 258.0,548.8 260.2,539.3 263.1,530.5 265.8,535.6 268.2,540.7 270.4,544.1 272.1,522.9 274.6,526.3 277.6,530.2 280.0,522.9 282.2,516.7 283.9,528.8 286.4,534.8 289.8,539.8 292.4,544.9 294.9,549.1 296.9,549.1 299.1,544.9 301.7,549.1 305.1,550.5 308.4,552.9 310.5,552.5 312.7,556.8 315.2,556.2 317.8,554.6 319.9,552.5 322.0,557.3 324.5,559.3 327.1,557.3 329.6,555.6 332.1,560.1 335.5,564.4 338.9,569.5 343.1,574.2 346.5,575.9 349.9,575.4 353.3,578.8 355.5,574.5 357.5,576.2 360.1,579.6 362.6,583.0 365.1,582.6 367.7,584.3 371.1,586.4 374.4,588.1 377.0,579.6 378.7,562.7 380.5,554.6 382.7,559.3 385.2,566.1 387.8,568.6 389.5,562.7 391.1,556.8 392.8,560.1 395.4,566.1 398.8,570.3 402.1,574.5 405.5,578.8 408.9,583.8 412.0,587.2 414.3,584.3 416.5,584.7 419.1,586.4 420.8,581.3 422.4,577.9 424.5,580.5 427.5,582.6 430.9,583.8 434.3,586.4 438.5,589.4 441.1,588.1 442.4,579.6 443.1,566.1 445.3,567.8 447.8,569.1 449.2,555.9 450.4,539.0 452.1,528.0 454.6,527.1 457.1,529.7 459.3,533.6 461.0,520.4 462.2,513.6 463.9,526.3 466.4,531.4 468.5,537.3 470.7,544.9 473.2,547.5 474.6,545.8 476.3,540.4 478.3,543.7 480.8,542.7 483.0,542.4 484.2,528.8 486.4,510.6 488.1,517.0 490.1,522.1 492.7,525.5 495.2,529.7 497.2,526.3 499.4,530.5 501.1,536.5 503.7,544.1 506.2,550.8 508.8,555.1 512.1,558.5 514.2,552.5 516.4,554.6 518.9,555.9 521.4,553.4 524.0,555.9 526.5,558.5 529.0,561.0 531.6,560.6 533.3,559.6 535.0,563.5 537.5,566.1 540.9,568.6 544.3,570.8 546.8,576.2 549.4,578.8 551.9,582.1 554.1,576.2 555.8,566.1 557.5,555.1 558.8,552.5 561.0,555.9 563.5,560.1 565.6,561.8 566.9,549.1 568.3,544.1 570.3,552.5 572.8,556.8 576.2,553.4 578.8,555.1 580.5,557.9 583.0,555.1 584.7,559.3 586.9,555.1 589.8,557.9 591.0,547.5 592.3,543.7 594.3,548.3 596.5,553.4 599.1,561.8 601.6,564.4 603.3,561.8 605.0,552.5 606.7,548.3 609.2,552.5 611.8,557.6 614.3,564.4 617.7,569.5 621.1,573.2 623.1,572.8 625.3,576.2 627.0,567.8 628.2,561.8 630.4,564.4 632.9,566.9 634.9,566.9 636.6,555.6 639.7,554.2 642.2,552.9 644.8,555.9 648.1,560.1 650.7,559.0 654.1,562.7 657.5,565.2 660.8,568.1 663.4,566.1 665.9,558.5 668.1,559.0 670.1,545.4 672.7,546.6 674.4,552.5 676.9,558.5 680.3,563.5 683.7,566.9 687.1,568.6 689.6,564.7 693.0,566.9 696.4,569.5 699.8,571.1 703.1,573.7 705.7,574.5 708.2,572.0 710.4,569.5 712.4,573.2 715.0,575.9 716.7,566.1 718.4,555.9 720.6,553.9 722.9,555.6 725.1,548.8 727.3,553.4 729.7,555.1 731.9,554.6 734.4,558.5 736.8,562.7 737.0,562.7 740.1,568.6 743.9,572.0 746.1,565.7 749.5,568.1 752.8,571.1 755.4,560.6 757.9,563.5 760.5,568.1 763.0,571.1 765.2,561.8 766.9,553.4 768.2,550.5 770.6,555.1 773.1,557.6 776.5,558.5 779.1,564.4 781.6,569.5 784.1,573.2 786.7,574.2 788.9,567.4 791.8,571.1 795.1,573.7 798.5,577.9 801.9,581.3 804.5,586.4 807.8,589.4 811.2,592.8 814.6,595.2 816.6,587.2 818.8,583.8 821.4,584.7 823.4,578.8 825.1,572.8 826.8,569.5 829.0,572.8 831.5,568.6 833.2,552.5 835.8,555.1 838.3,557.6 840.8,549.1 843.4,552.5 846.8,557.6 850.1,561.8 852.7,563.5 853.9,554.2 854.9,544.4 856.9,544.1 858.6,545.8 860.3,535.6 862.3,529.2 864.5,530.5 867.1,534.8 870.4,535.6 872.1,537.3 874.2,522.1 876.4,526.3 878.9,531.4 882.3,534.8 885.7,539.0 888.2,535.3 890.7,538.1 893.3,542.4 895.8,545.8 897.9,544.1 900.0,545.8 902.6,544.4 905.1,549.1 907.7,552.5 910.2,553.4 913.6,557.6 916.1,561.8 918.7,567.8 920.0,573.2 922.0,577.1 924.5,580.5 927.1,583.0 929.1,583.0 930.8,576.2 933.0,577.9 936.4,581.3 939.8,583.8 943.1,585.5 944.8,576.2 946.5,567.8 948.2,563.5 950.4,569.5 953.3,572.8 956.7,575.9 959.6,570.3 962.6,572.8 966.8,575.9 969.0,570.3 971.1,571.1 974.5,575.4 977.8,578.8 981.2,579.9 983.2,569.1 985.5,572.0 986.6,566.1 988.0,553.4 990.5,548.8 993.1,545.8 995.1,548.3 997.3,555.1 999.8,558.5 1001.9,552.5 1004.1,552.5 1006.3,555.9 1009.1,560.1 1011.7,558.5 1014.2,560.1 1016.4,557.3 1018.4,560.6 1020.5,561.8 1022.7,560.1 1024.4,561.8 1026.6,570.3 1028.3,572.0 1030.0,563.5 1031.1,557.9 1033.7,561.0 1035.4,558.5 1037.4,561.0 1039.1,559.0 1040.8,559.0" fill="none" stroke="#ff6d00" stroke-width="1.2" stroke-linejoin="round"/>
<polyline points="12.5,549.5 16.8,546.6 20.1,544.9 23.5,541.5 26.4,540.4 28.6,542.7 31.1,545.8 35.4,547.1 39.6,550.0 43.8,554.2 48.9,561.3 54.8,563.5 59.1,568.6 64.2,574.5 69.2,578.8 74.3,581.6 79.4,585.5 84.5,583.3 89.5,586.4 92.9,587.2 95.5,585.2 98.8,586.4 103.1,589.4 106.1,591.1 109.0,589.4 111.5,584.7 114.9,577.9 120.0,571.1 125.1,564.4 129.3,558.5 132.7,553.4 135.2,553.4 138.6,555.9 142.8,560.1 147.1,566.9 150.4,556.8 153.8,547.5 158.9,537.3 164.0,528.0 167.4,524.6 170.7,523.4 175.0,518.7 179.2,512.8 184.3,506.0 189.4,500.1 194.4,495.0 197.6,493.6 201.0,495.9 205.2,499.2 208.6,504.3 211.2,510.2 213.3,513.6 216.2,512.8 218.8,512.3 221.3,514.5 224.7,519.5 228.9,524.6 232.3,528.8 234.3,531.4 237.4,530.9 240.8,528.5 245.0,529.7 249.2,531.4 253.4,534.3 256.8,537.3 259.4,538.6 262.8,537.3 266.1,535.3 270.4,537.3 274.6,534.8 278.8,530.5 282.2,525.5 285.6,525.5 289.0,527.1 292.4,532.2 295.8,539.0 300.0,545.8 305.1,553.4 310.1,561.8 316.1,569.5 321.1,575.4 326.2,579.6 331.3,581.6 336.4,584.7 340.6,583.0 344.8,579.6 349.1,576.2 353.3,573.7 357.5,573.2 360.1,572.5 363.4,567.8 366.8,561.0 370.2,554.2 373.6,548.8 377.0,546.6 379.3,549.1 381.8,555.1 385.2,557.6 388.6,557.6 392.0,561.0 395.4,562.7 399.6,561.8 403.8,560.1 408.1,555.9 412.3,550.0 415.7,545.8 419.1,543.2 423.3,544.1 427.5,545.4 431.8,546.1 436.0,544.9 439.4,543.2 441.1,542.7 443.6,548.3 447.0,554.2 449.2,555.9 452.9,550.8 458.0,542.4 463.1,533.1 467.3,523.8 469.5,521.2 472.4,524.1 475.8,525.8 480.0,526.3 483.4,525.8 486.8,520.4 490.1,514.5 493.5,510.6 497.8,507.7 501.1,506.0 503.7,507.2 506.2,511.9 508.8,522.1 512.1,529.7 515.5,538.1 519.8,546.6 524.0,554.2 528.2,559.3 532.4,563.5 536.7,566.9 540.9,567.8 545.1,568.1 548.5,564.4 551.9,560.6 554.4,559.6 557.0,562.3 560.1,566.9 563.5,570.3 566.1,573.7 568.6,573.2 572.0,575.9 575.4,577.1 578.8,577.9 582.1,580.5 585.5,583.0 589.8,584.7 593.1,581.3 595.7,580.5 599.1,583.0 602.5,585.0 605.0,585.5 607.5,583.8 610.1,584.7 613.5,586.7 616.8,585.5 620.2,583.0 623.6,579.6 625.3,578.2 627.8,581.3 631.2,583.8 634.6,586.4 638.0,584.7 641.4,580.5 644.8,576.2 649.0,572.8 653.2,569.5 657.5,567.8 661.7,567.4 665.1,564.4 668.4,559.3 671.8,554.2 674.4,552.5 677.8,555.1 681.1,560.1 685.4,566.1 690.4,572.0 695.5,577.1 700.6,580.5 704.8,580.5 708.2,581.3 710.7,583.0 714.1,581.0 717.5,581.6 721.7,582.1 726.0,581.0 729.4,580.5 731.9,579.6 735.3,581.3 736.8,582.6 740.1,582.6 743.5,581.3 746.9,582.6 751.1,583.8 755.4,584.7 759.6,587.2 763.0,587.2 765.5,588.4 768.9,588.1 773.1,589.8 776.5,590.1 779.4,591.1 782.5,588.9 785.8,586.4 789.2,585.5 793.5,584.7 797.7,582.1 801.9,579.6 805.3,574.5 808.7,567.8 811.2,561.0 813.8,553.4 816.3,547.1 819.7,543.2 823.1,540.4 826.5,540.4 829.8,541.5 832.4,544.9 834.9,550.0 838.3,555.9 841.7,560.1 845.1,564.4 848.4,568.1 851.8,570.3 856.1,571.5 860.0,571.1 862.8,567.8 866.2,564.4 869.6,559.3 873.0,554.2 877.2,545.8 881.4,538.1 885.7,530.5 889.0,525.5 891.6,523.4 895.0,524.1 898.4,524.6 901.7,524.1 904.3,524.6 907.7,528.0 911.0,530.5 914.4,533.1 917.5,538.1 921.1,541.0 924.5,540.7 927.9,537.6 930.5,537.3 933.0,538.6 936.4,537.3 940.6,535.3 943.6,534.3 946.5,538.1 949.9,543.7 953.3,546.6 957.5,548.8 960.9,551.7 964.3,554.6 967.7,557.3 971.1,562.7 974.1,562.7 977.0,561.0 980.4,557.9 983.8,557.6 987.1,558.5 990.5,564.0 993.9,566.1 998.1,570.3 1002.4,573.7 1006.6,577.1 1010.0,581.3 1014.2,584.7 1018.4,586.9 1022.7,587.5 1025.2,585.5 1027.8,582.6 1031.1,583.3 1034.5,585.5 1037.9,587.5 1040.8,588.4" fill="none" stroke="#f50057" stroke-width="1.35" stroke-linejoin="round"/>
<text y="20.2" font-size="12" fill="#222326" stroke="#222326" stroke-width="0.22"><tspan x="10.9" textLength="53.7" lengthAdjust="spacingAndGlyphs">FxWirePro</tspan> <tspan x="68.5" textLength="39.7" lengthAdjust="spacingAndGlyphs">created</tspan> <tspan x="113.3" textLength="22.8" lengthAdjust="spacingAndGlyphs">with</tspan> <tspan x="141.2" textLength="92.9" lengthAdjust="spacingAndGlyphs">TradingView.com,</tspan> <tspan x="239.5" textLength="17.4" lengthAdjust="spacingAndGlyphs">Jan</tspan> <tspan x="261.5" textLength="15.7" lengthAdjust="spacingAndGlyphs">05,</tspan> <tspan x="282.3" textLength="24.2" lengthAdjust="spacingAndGlyphs">2026</tspan> <tspan x="311.1" textLength="27.9" lengthAdjust="spacingAndGlyphs">08:29</tspan> <tspan x="344.1" textLength="20.6" lengthAdjust="spacingAndGlyphs">UTC</tspan></text>
<text y="46.9" font-size="12" fill="#222326" stroke="#222326" stroke-width="0.22"><tspan x="19.0" textLength="53.0" lengthAdjust="spacingAndGlyphs">Australian</tspan> <tspan x="76.6" textLength="31.0" lengthAdjust="spacingAndGlyphs">Dollar</tspan> <tspan x="112.2">/</tspan> <tspan x="121.6" textLength="45.2" lengthAdjust="spacingAndGlyphs">Japanese</tspan> <tspan x="171.4" textLength="21.4" lengthAdjust="spacingAndGlyphs">Yen</tspan> <tspan x="196.6" textLength="3.2" lengthAdjust="spacingAndGlyphs">·</tspan> <tspan x="205.0" textLength="11.8" lengthAdjust="spacingAndGlyphs">4h</tspan> <tspan x="221.6" textLength="3.2" lengthAdjust="spacingAndGlyphs">·</tspan> <tspan x="229.7" textLength="27.9" lengthAdjust="spacingAndGlyphs">FXCM</tspan> <tspan x="265.1" textLength="7.9" lengthAdjust="spacingAndGlyphs">O</tspan> <tspan x="273.5" textLength="41.0" lengthAdjust="spacingAndGlyphs" fill="#f23645" stroke="#f23645">104.927</tspan> <tspan x="323.0" textLength="6.6" lengthAdjust="spacingAndGlyphs">H</tspan> <tspan x="330.0" textLength="41.4" lengthAdjust="spacingAndGlyphs" fill="#f23645" stroke="#f23645">104.961</tspan> <tspan x="380.4" textLength="5.8" lengthAdjust="spacingAndGlyphs">L</tspan> <tspan x="386.8" textLength="40.5" lengthAdjust="spacingAndGlyphs" fill="#f23645" stroke="#f23645">104.692</tspan> <tspan x="435.5" textLength="7.0" lengthAdjust="spacingAndGlyphs">C</tspan> <tspan x="443.4" textLength="40.3" lengthAdjust="spacingAndGlyphs" fill="#f23645" stroke="#f23645">104.718</tspan> <tspan x="492.9" textLength="82.9" lengthAdjust="spacingAndGlyphs" fill="#f23645" stroke="#f23645">−0.209 (−0.20%)</tspan></text>
<text y="376.9" font-size="12" fill="#222326" stroke="#222326" stroke-width="0.22"><tspan x="18.5" textLength="72.5" lengthAdjust="spacingAndGlyphs">CCI (50, hlc3)</tspan> <tspan x="98.8" textLength="29.2" lengthAdjust="spacingAndGlyphs" fill="#2962ff" stroke="#2962ff">56.74</tspan></text>
<text y="500.9" font-size="12" fill="#222326" stroke="#222326" stroke-width="0.22"><tspan x="18.5" textLength="64.1" lengthAdjust="spacingAndGlyphs">DMI (14, 14)</tspan> <tspan x="91.2" textLength="41.0" lengthAdjust="spacingAndGlyphs" fill="#f50057" stroke="#f50057">10.7145</tspan> <tspan x="140.8" textLength="40.8" lengthAdjust="spacingAndGlyphs" fill="#2962ff" stroke="#2962ff">18.9855</tspan> <tspan x="189.5" textLength="41.2" lengthAdjust="spacingAndGlyphs" fill="#ff6d00" stroke="#ff6d00">22.6818</tspan></text>
<text x="1074.5" y="103.0" font-size="12.3" fill="#222326" stroke="#222326" stroke-width="0.22" textLength="42.0" lengthAdjust="spacingAndGlyphs" >104.000</text>
<text x="1074.5" y="162.0" font-size="12.3" fill="#222326" stroke="#222326" stroke-width="0.22" textLength="42.0" lengthAdjust="spacingAndGlyphs" >102.000</text>
<text x="1074.5" y="221.3" font-size="12.3" fill="#222326" stroke="#222326" stroke-width="0.22" textLength="42.0" lengthAdjust="spacingAndGlyphs" >100.000</text>
<text x="1074.5" y="281.0" font-size="12.3" fill="#222326" stroke="#222326" stroke-width="0.22" textLength="35.8" lengthAdjust="spacingAndGlyphs" >98.000</text>
<text x="1074.5" y="340.8" font-size="12.3" fill="#222326" stroke="#222326" stroke-width="0.22" textLength="35.8" lengthAdjust="spacingAndGlyphs" >96.000</text>
<text x="1074.5" y="395.9" font-size="12.3" fill="#222326" stroke="#222326" stroke-width="0.22" textLength="35.4" lengthAdjust="spacingAndGlyphs" >200.00</text>
<text x="1074.5" y="437.0" font-size="12.3" fill="#222326" stroke="#222326" stroke-width="0.22" textLength="22.8" lengthAdjust="spacingAndGlyphs" >0.00</text>
<text x="1074.5" y="477.8" font-size="12.3" fill="#222326" stroke="#222326" stroke-width="0.22" textLength="41.6" lengthAdjust="spacingAndGlyphs" >−200.00</text>
<text x="1074.5" y="519.6" font-size="12.3" fill="#222326" stroke="#222326" stroke-width="0.22" textLength="42.0" lengthAdjust="spacingAndGlyphs" >40.0000</text>
<text x="1074.5" y="569.5" font-size="12.3" fill="#222326" stroke="#222326" stroke-width="0.22" textLength="42.0" lengthAdjust="spacingAndGlyphs" >20.0000</text>
<text x="24.0" y="624.6" font-size="12.3" fill="#222326" stroke="#222326" stroke-width="0.22" textLength="12.9" lengthAdjust="spacingAndGlyphs" text-anchor="middle" >23</text>
<text x="109.3" y="624.6" font-size="12.3" fill="#222326" stroke="#222326" stroke-width="0.22" textLength="19.0" lengthAdjust="spacingAndGlyphs" text-anchor="middle" >Oct</text>
<text x="166.2" y="624.6" font-size="12.3" fill="#222326" stroke="#222326" stroke-width="0.22" textLength="6.2" lengthAdjust="spacingAndGlyphs" text-anchor="middle" >7</text>
<text x="221.5" y="624.6" font-size="12.3" fill="#222326" stroke="#222326" stroke-width="0.22" textLength="12.9" lengthAdjust="spacingAndGlyphs" text-anchor="middle" >12</text>
<text x="280.7" y="624.6" font-size="12.3" fill="#222326" stroke="#222326" stroke-width="0.22" textLength="12.9" lengthAdjust="spacingAndGlyphs" text-anchor="middle" >17</text>
<text x="337.1" y="624.6" font-size="12.3" fill="#222326" stroke="#222326" stroke-width="0.22" textLength="12.9" lengthAdjust="spacingAndGlyphs" text-anchor="middle" >23</text>
<text x="433.8" y="624.6" font-size="12.3" fill="#222326" stroke="#222326" stroke-width="0.22" textLength="20.4" lengthAdjust="spacingAndGlyphs" text-anchor="middle" >Nov</text>
<text x="492.8" y="624.6" font-size="12.3" fill="#222326" stroke="#222326" stroke-width="0.22" textLength="6.2" lengthAdjust="spacingAndGlyphs" text-anchor="middle" >7</text>
<text x="550.3" y="624.6" font-size="12.3" fill="#222326" stroke="#222326" stroke-width="0.22" textLength="12.9" lengthAdjust="spacingAndGlyphs" text-anchor="middle" >13</text>
<text x="607.6" y="624.6" font-size="12.3" fill="#222326" stroke="#222326" stroke-width="0.22" textLength="12.9" lengthAdjust="spacingAndGlyphs" text-anchor="middle" >19</text>
<text x="664.6" y="624.6" font-size="12.3" fill="#222326" stroke="#222326" stroke-width="0.22" textLength="12.9" lengthAdjust="spacingAndGlyphs" text-anchor="middle" >25</text>
<text x="721.4" y="624.6" font-size="12.3" fill="#222326" stroke="#222326" stroke-width="0.22" textLength="19.4" lengthAdjust="spacingAndGlyphs" text-anchor="middle" >Dec</text>
<text x="777.3" y="624.6" font-size="12.3" fill="#222326" stroke="#222326" stroke-width="0.22" textLength="6.2" lengthAdjust="spacingAndGlyphs" text-anchor="middle" >5</text>
<text x="834.3" y="624.6" font-size="12.3" fill="#222326" stroke="#222326" stroke-width="0.22" textLength="12.9" lengthAdjust="spacingAndGlyphs" text-anchor="middle" >11</text>
<text x="891.3" y="624.6" font-size="12.3" fill="#222326" stroke="#222326" stroke-width="0.22" textLength="12.9" lengthAdjust="spacingAndGlyphs" text-anchor="middle" >17</text>
<text x="948.1" y="624.6" font-size="12.3" fill="#222326" stroke="#222326" stroke-width="0.22" textLength="12.9" lengthAdjust="spacingAndGlyphs" text-anchor="middle" >23</text>
<text x="1026.9" y="624.6" font-size="12.3" fill="#222326" stroke="#222326" stroke-width="0.22" textLength="26.9" lengthAdjust="spacingAndGlyphs" font-weight="bold" text-anchor="middle" >2026</text>
<rect x="1069" y="31.3" width="60" height="25.5" rx="4" fill="#fff" stroke="#e5e5e7" stroke-width="1"/>
<text x="1078.0" y="48.1" font-size="12.6" fill="#222326" stroke="#222326" stroke-width="0.22" textLength="19.2" lengthAdjust="spacingAndGlyphs" >JPY</text>
<rect x="1014.9" y="68.8" width="50.5" height="16.8" rx="2" fill="#f23645"/>
<text x="1019.1" y="81.3" font-size="11.5" fill="#fff" stroke="#fff" stroke-width="0.3" textLength="41.0" lengthAdjust="spacingAndGlyphs" >AUDJPY</text>
<rect x="1066" y="69" width="58" height="30.3" fill="#f23645"/>
<text x="1075.7" y="81.0" font-size="11.5" fill="#fff" stroke="#fff" stroke-width="0.3" textLength="41.7" lengthAdjust="spacingAndGlyphs" >104.718</text>
<text x="1074.8" y="95.8" font-size="11.5" fill="#fff" stroke="#fff" stroke-width="0.3" textLength="46.5" lengthAdjust="spacingAndGlyphs" opacity="0.82">01:30:44</text>
<path d="M1065.8 134.5H1120.2a2 2 0 0 1 2 2V148.9a2 2 0 0 1-2 2H1065.8z" fill="#5e35b1"/>
<text x="1075.7" y="146.4" font-size="11.5" fill="#fff" stroke="#fff" stroke-width="0.3" textLength="41.7" lengthAdjust="spacingAndGlyphs" >102.514</text>
<circle cx="1040.7" cy="343.3" r="11.6" fill="#fff"/><circle cx="1047.5" cy="336.45" r="4.6" fill="#fff"/>
<path d="M1050.3 340.9A9.9 9.9 0 1 1 1043.76 333.88" fill="none" stroke="#9423ae" stroke-width="1.6"/>
<path d="M1043 338.6L1036.8 343.4L1040.6 343.6L1037.9 348.1L1044.7 342.9L1041 342.9Z" fill="#9423ae" stroke="#9423ae" stroke-width="0.8" stroke-linejoin="round"/>
<circle cx="1047.5" cy="336.45" r="2.75" fill="#f23645"/>
</svg>
</body></html>
